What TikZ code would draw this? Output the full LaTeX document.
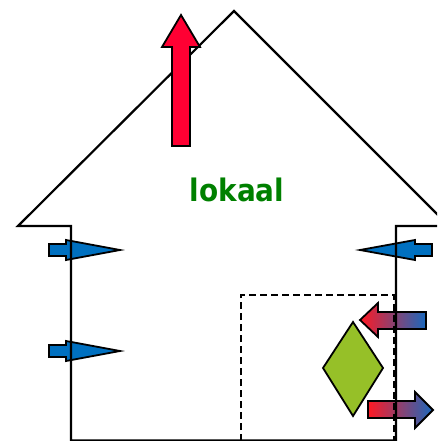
\documentclass[tikz,border=0pt]{standalone}
\usepackage{fontspec}
\newfontfamily\lokaalfont{DejaVu Sans Condensed}
\definecolor{inblue}{RGB}{0,112,192}
\definecolor{exhaustred}{RGB}{255,0,51}
\definecolor{unitgreen}{RGB}{150,192,40}
\definecolor{textgreen}{RGB}{0,128,0}
\definecolor{hotred}{RGB}{255,25,35}
\definecolor{coldblue}{RGB}{25,105,190}
\tikzset{
  wall/.style={line width=2.2pt, line join=miter},
  airarrow/.style={draw=black, line width=1.8pt, line join=miter},
  supply/.style={airarrow, fill=inblue},
  recovery/.style={airarrow, left color=hotred, middle color=hotred!55!coldblue, right color=coldblue},
}
\begin{document}
\begin{tikzpicture}[x=1pt, y=-1pt]
  \useasboundingbox (0,0) rectangle (437,441);
  \clip (0,0) rectangle (437,441);

  % Supply air through the left wall
  \draw[supply] (49,244) -- (66,244) -- (66,240) -- (120,250) -- (66,260) -- (66,256) -- (49,256) -- cycle;
  \draw[supply] (49,345) -- (66,345) -- (66,341) -- (120,351) -- (66,361) -- (66,357) -- (49,357) -- cycle;
  % Supply air through the right wall
  \draw[supply] (432,244) -- (415,244) -- (415,240) -- (360,250) -- (415,260) -- (415,256) -- (432,256) -- cycle;

  % Heat recovery: warm air in, cooled air out
  \draw[recovery] (426,312) -- (378,312) -- (378,303) -- (360,320) -- (378,337) -- (378,329) -- (426,329) -- cycle;
  \draw[recovery] (368,401) -- (415,401) -- (415,392) -- (433,410) -- (415,428) -- (415,418) -- (368,418) -- cycle;

  % House outline
  \draw[wall] (71,440.5) -- (71,226) -- (18,226) -- (234,11) -- (449,226) -- (396,226) -- (396,440.5) -- cycle;

  % Technical room
  \draw[line width=2pt, dash pattern=on 7pt off 4pt] (241,441) -- (241,295) -- (394,295) -- (394,441);

  % Exhaust through the roof
  \draw[airarrow, fill=exhaustred] (172,146) -- (172,47) -- (162,47) -- (181,15) -- (200,47) -- (190,47) -- (190,146) -- cycle;

  % Unit
  \draw[airarrow, fill=unitgreen] (353,322) -- (383,368) -- (353,416) -- (323,368) -- cycle;

  \node[text=textgreen, font=\lokaalfont\bfseries\fontsize{31}{36}\selectfont] (lokaal) at (237,190) {lokaal};
\end{tikzpicture}
\end{document}
